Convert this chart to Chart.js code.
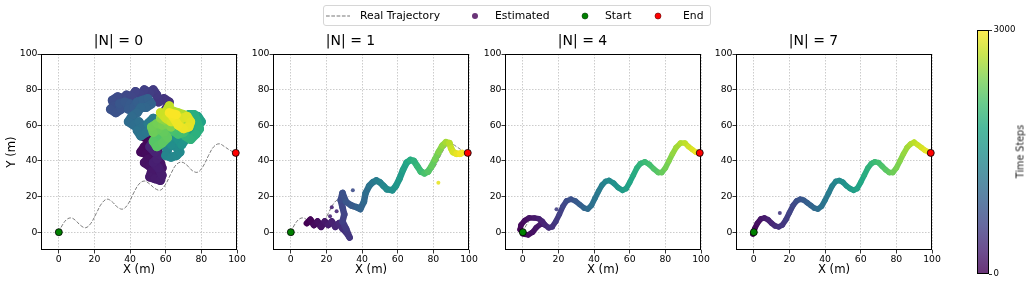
<!DOCTYPE html>
<html>
<head>
<meta charset="UTF-8">
<title>Trajectory estimates</title>
<style>
  body { margin: 0; background: #fff; }
  #wrap { position: relative; width: 1034px; height: 284px; overflow: hidden; font-family: 'DejaVu Sans', sans-serif; }
  #wrap canvas { position: absolute; top: 0; }
  .legend { position: absolute; left: 323px; top: 5px; width: 386px; height: 19px; border: 1px solid #d6d6d6; border-radius: 3px; font-size: 10.8px; color: #000; }
  .legend span { position: absolute; top: 3px; white-space: nowrap; }
  .legend svg { position: absolute; top: 0; }
  .cbar-label { position: absolute; left: 992px; top: 146px; width: 56px; text-align: center; font-size: 9.6px; font-weight: normal; color: #222; transform: rotate(-90deg); transform-origin: 50% 50%; white-space: nowrap; }
</style>
<script src="https://cdn.jsdelivr.net/npm/chart.js@4.4.0/dist/chart.umd.min.js"></script>
</head>
<body>
<div id="wrap">
  <canvas id="p0" width="249" height="284" style="left:0px"></canvas>
  <canvas id="p1" width="249" height="284" style="left:232px"></canvas>
  <canvas id="p2" width="249" height="284" style="left:464px"></canvas>
  <canvas id="p3" width="249" height="284" style="left:695px"></canvas>
  <canvas id="cbar" width="60" height="264" style="left:970px; top:20px"></canvas>
  <div class="cbar-label">Time Steps</div>
  <div class="legend">
    <svg width="30" height="19" style="left:1px"><line x1="1" y1="10" x2="25" y2="10" stroke="#777" stroke-width="1.1" stroke-dasharray="3.7 1.6"/></svg>
    <span style="left:36px">Real Trajectory</span>
    <svg width="10" height="19" style="left:146px"><circle cx="5" cy="10" r="3" fill="#6a3478"/></svg>
    <span style="left:171px">Estimated</span>
    <svg width="10" height="19" style="left:256px"><circle cx="5" cy="10" r="3" fill="green" stroke="#0a3a0a" stroke-width="0.6"/></svg>
    <span style="left:281px">Start</span>
    <svg width="10" height="19" style="left:329px"><circle cx="5" cy="10" r="3" fill="red" stroke="#5a0000" stroke-width="0.6"/></svg>
    <span style="left:359px">End</span>
  </div>
</div>

<script>
// ---- data ----
var panelTitles = ['|N| = 0', '|N| = 1', '|N| = 4', '|N| = 7'];
var xTicks = [0, 20, 40, 60, 80, 100];
var yTicks = [0, 20, 40, 60, 80, 100];
var cbarTicks = [0, 3000];
var tMax = 3000;

// real trajectory (same in every panel)
var trajX = [0, 2, 4.5, 7, 9.5, 12, 15, 18, 21, 24, 27, 30, 33, 36, 39, 42, 45, 48, 51, 54, 57, 60, 63, 66, 69, 72, 75, 78, 81, 84, 87, 90, 93, 96, 99];
var trajY = [0, 4, 7.2, 8, 6.5, 4, 2.5, 5, 10.5, 16, 18.5, 17, 14, 13, 16, 22, 27, 28.7, 27, 24.5, 23.6, 27, 33, 38, 39.3, 37.5, 34.5, 33.7, 37, 43, 48, 49.6, 48, 46, 44.5];
var startPt = [0, 0];
var endPt = [99.3, 44.5];

// estimated positions [x, y, time step]
var est0 = [
  // dark purple, lower blob
  [50,52,0],[47,54,10],[49,57,20],[52,55,30],[54,52,40],[51,50,50],[48,48,60],[46,45,70],[49,44,80],[52,46,90],
  [55,47,100],[56,44,110],[53,42,120],[50,41,130],[48,39,140],[51,37,150],[54,38,160],[57,39,170],[58,36,180],[55,34,190],
  [52,34,200],[51,31,210],[54,30,220],[57,29,230],[58,32,240],[56,36,250],[53,39,260],[55,41,270],[57,43,280],[54,45,290],
  [51,48,300],[53,51,310],[56,54,320],[54,57,330],[51,59,340],[49,56,350],[52,60,360],[55,62,380],[58,65,400],[60,69,420],
  [62,73,440],[59,75,460],[56,73,480],
  // blue, upper left
  [55,77,500],[53,80,520],[51,78,540],[48,80,560],[46,77,580],[43,79,600],[41,76,620],[38,77,640],[36,75,660],[33,76,680],
  [30,74,700],[31,71,720],[29,69,740],[32,67,760],[35,69,780],[34,72,800],[37,73,820],[40,72,840],[39,69,860],[42,70,880],
  [44,73,900],[47,74,920],[50,75,940],[52,72,960],[49,70,980],[46,70,1000],
  // teal
  [44,67,1020],[41,65,1040],[39,62,1060],[42,60,1080],[45,62,1100],[47,59,1120],[44,57,1140],[46,54,1160],[49,56,1180],[52,58,1200],
  [50,61,1220],[53,64,1240],
  [56,60,1260],[58,56,1280],[56,52,1300],[59,49,1320],[61,46,1340],[60,43,1360],[63,42,1380],[66,43,1400],[68,45,1420],[66,48,1440],
  [63,49,1460],[61,52,1480],[64,54,1500],[67,52,1520],[69,49,1540],[71,52,1560],[68,55,1580],[65,57,1600],
  // green, right side
  [68,59,1620],[71,57,1640],[74,55,1660],[76,58,1680],[78,60,1700],[80,62,1720],[78,65,1740],[76,63,1760],[74,60,1780],[72,62,1800],
  [70,64,1820],[73,66,1840],[76,66,1860],[79,58,1880],[77,55,1900],[74,52,1920],[71,54,1940],[69,57,1960],[66,60,1980],[64,62,2000],
  [67,64,2020],[70,62,2040],[72,59,2060],[70,56,2080],[67,55,2100],
  // light green
  [64,57,2120],[61,58,2140],[58,56,2160],[55,54,2180],[53,51,2200],[55,48,2220],[58,50,2240],[61,53,2260],[59,56,2280],[56,58,2300],
  [53,56,2320],[52,59,2340],[55,61,2360],[58,60,2380],[61,61,2400],[63,59,2420],[65,61,2440],[62,63,2460],[59,63,2480],[57,64,2500],
  // yellow, top
  [59,66,2520],[62,66,2540],[65,64,2560],[68,63,2580],[70,61,2600],[72,63,2620],[70,66,2640],[67,67,2660],[64,68,2680],[61,69,2700],
  [62,71,2720],[60,67,2740],[57,67,2760],[60,64,2780],[63,62,2800],[66,62,2820],[69,64,2840],[72,65,2860],[74,62,2880],[73,59,2900],
  [70,58,2920],[67,60,2940],[64,65,2960],[62,67,2980],[66,66,3000]
];
var est1 = [
  [9,5,0],[11,7,40],[13,4,80],[15,6,120],[17,3,160],[19,6,200],[21,4,240],[23,6,280],[25,3,320],[27,5,360],
  [29,2,400],[31,0,440],[33,-3,480],[31,2,520],[29,6,560],[30,10,600],[29,14,640],[28,18,690],[29,22,740],[31,17,800],
  [34,15,860],[37,14,920],[39,13,960],[41,17,1020],[42,22,1080],[44,26,1140],[46,28,1200],[48,29,1260],[50,28,1320],[52,26,1380],
  [54,24,1440],[57,23.5,1500],[59,26,1560],[61,30,1620],[63,35,1700],[65,39,1780],[67,40.5,1850],[69,40,1920],[71,37,1990],[73,34,2060],
  [75,33,2130],[77,34,2200],[79,37,2280],[81,41,2360],[83,45,2440],[85,48.5,2520],[87,50.5,2600],[89,50,2680],[90,47,2760],[91,45,2820],
  [93,44,2900],[95,44,2960],[96,44.5,3000]
];
var out1 = [[23,14,300],[25.7,11.8,320],[22,9,300],[34.8,23.6,700],[82.8,27.7,2900]];
var est4 = [
  [0,0,0],[-1.5,1.5,30],[-1,4,70],[1,6.5,110],[3.5,8,160],[6.5,8,210],[9,7.5,260],[11,6,300],[12.5,4,340],[14.5,2.5,400],
  [16.5,3,450],[18.5,6,510],[20.5,10,570],[22.5,14.5,630],[24.5,17.5,690],[27,18.5,760],[29.5,17.5,830],[32,15.5,900],[34.5,13.5,970],[36.5,13,1040],
  [38.5,15,1110],[40.5,19,1180],[42.5,23,1250],[44.5,26.5,1310],[46.5,28.5,1370],[48.5,29,1430],[51,27.5,1500],[53.5,25,1570],[56,23.5,1640],[58,24.5,1700],
  [60,28,1770],[62,32,1840],[64,36,1900],[66,38.5,1960],[68.5,39.5,2030],[71,38,2100],[73.5,35.5,2170],[76,33.5,2240],[78,33.5,2300],[80,36,2370],
  [82,40,2440],[84,44,2510],[86,47.5,2580],[88.5,50,2650],[91,50,2720],[93,48,2790],[95,46.5,2860],[97,45,2930],[99,44.5,3000]
];
var est4b = [[0,-1,60],[3,-1.5,100],[5.5,0,140],[7.5,2.5,180],[10,4.5,220],[12,4.5,320]];
var out4 = [[18.9,12.9,550]];
var est7 = [
  [0,0,0],[-0.5,-1,20],[0.5,2,60],[2,5,120],[4,7.5,180],[6,8,230],[8,7,280],[10,5,330],[12,3.5,380],[14,3,430],
  [16,4,480],[18,7,540],[20,11,600],[22,15,660],[24,17.5,720],[26,18.5,780],[28,18,840],[30,16.5,900],[32,15,960],[34,13.5,1020],
  [36,13,1080],[38,14.5,1140],[40,18,1200],[42,22,1260],[44,26,1320],[46,28.5,1380],[48,29,1440],[50,28,1500],[52,26,1560],[54,24.5,1620],
  [56,23.5,1680],[58,24.5,1740],[60,28,1800],[62,32,1860],[64,36,1920],[66,38.5,1980],[68,39.5,2040],[70,39,2100],[72,37,2160],[74,35,2220],
  [76,33.5,2280],[78,33.5,2340],[80,36,2400],[82,40,2460],[84,44,2520],[86,47.5,2580],[88,49.5,2640],[90,50.5,2700],[92,49,2760],[94,47.5,2820],
  [96,46,2880],[98,45,2950],[99,44.5,3000]
];
var out7 = [[14.6,10.8,480]];

// ---- colour map ----
var viridisStops = ['#440154','#482475','#414487','#355f8d','#2a788e','#21918c','#22a884','#44bf70','#7ad151','#bddf26','#fde725'];
function hexRgb(h) { return [parseInt(h.substr(1,2),16), parseInt(h.substr(3,2),16), parseInt(h.substr(5,2),16)]; }
function viridis(f, a) {
  f = Math.max(0, Math.min(1, f));
  var p = f * (viridisStops.length - 1), i = Math.min(Math.floor(p), viridisStops.length - 2), r = p - i;
  var c0 = hexRgb(viridisStops[i]), c1 = hexRgb(viridisStops[i+1]);
  var c = c0.map(function(v, k) { return Math.round(v + (c1[k] - v) * r); });
  return 'rgba(' + c[0] + ',' + c[1] + ',' + c[2] + ',' + (a == null ? 1 : a) + ')';
}

Chart.defaults.font.family = "'DejaVu Sans', sans-serif";
Chart.defaults.color = '#000';

// box around the plot area, like matplotlib spines
var framePlugin = {
  id: 'frame',
  beforeDatasetsDraw: function(chart) {
    var a = chart.chartArea, ctx = chart.ctx;
    ctx.save();
    ctx.strokeStyle = '#000';
    ctx.lineWidth = 1;
    ctx.strokeRect(Math.round(a.left) + 0.5, Math.round(a.top) + 0.5, Math.round(a.right - a.left) - 1, Math.round(a.bottom - a.top) - 1);
    ctx.restore();
  }
};

function toPts(arr) { return arr.map(function(p) { return {x: p[0], y: p[1], t: p[2]}; }); }

// estimated track: a thick line coloured segment by segment with the time step
function estSet(arr, width) {
  var pts = toPts(arr);
  return {
    data: pts, showLine: true, borderWidth: width, tension: 0,
    borderCapStyle: 'round', borderJoinStyle: 'round',
    segment: { borderColor: function(c) { return viridis(pts[c.p0DataIndex].t / tMax, 1); } },
    pointRadius: 0,
    order: 3
  };
}

function scatterSet(arr) {
  return {
    data: toPts(arr), showLine: false, pointRadius: 2, pointBorderWidth: 0,
    pointBackgroundColor: function(c) { return viridis(c.raw.t / tMax, 0.9); },
    order: 3
  };
}

function drawPanel(id, idx, bands, width, outliers) {
  var traj = trajX.map(function(x, i) { return {x: x, y: trajY[i]}; });
  var sets = [{
    data: traj, showLine: true, pointRadius: 0, borderColor: 'rgba(110,110,110,0.9)',
    borderWidth: 1, borderDash: [3.7, 1.6], tension: 0.4, order: 5
  }];
  bands.forEach(function(b) { sets.push(estSet(b, width)); });
  if (outliers) sets.push(scatterSet(outliers));
  sets.push({ data: [{x: startPt[0], y: startPt[1]}], pointRadius: 3.5, pointBackgroundColor: 'green', pointBorderColor: '#000', pointBorderWidth: 0.8, clip: false, order: 0 });
  sets.push({ data: [{x: endPt[0], y: endPt[1]}], pointRadius: 3.5, pointBackgroundColor: 'red', pointBorderColor: '#000', pointBorderWidth: 0.8, clip: false, order: 0 });

  var gridOpts = { color: 'rgba(170,170,170,0.75)', lineWidth: 0.8, tickLength: 3.5, tickColor: '#000', tickWidth: 0.8 };
  new Chart(document.getElementById(id), {
    type: 'scatter',
    data: { datasets: sets },
    options: {
      responsive: false, animation: false, events: [],
      layout: { padding: { left: 0, right: 12, top: 0, bottom: 0 } },
      plugins: {
        legend: { display: false }, tooltip: { enabled: false },
        title: { display: true, text: panelTitles[idx], font: { size: 14, weight: 'normal' }, color: '#000', padding: { top: 32.6, bottom: 4.6 } }
      },
      scales: {
        x: {
          type: 'linear', min: -10, max: 100,
          afterBuildTicks: function(s) { s.ticks = xTicks.map(function(v) { return {value: v}; }); },
          afterFit: function(s) { s.height = 34; },
          grid: gridOpts, border: { display: false, dash: [1.5, 1.5] },
          ticks: { font: { size: 9.3 }, padding: 1, maxRotation: 0, autoSkip: false },
          title: { display: true, text: 'X (m)', font: { size: 11.7 }, padding: { top: 0, bottom: 7.5 } }
        },
        y: {
          type: 'linear', min: -10, max: 100,
          afterBuildTicks: function(s) { s.ticks = yTicks.map(function(v) { return {value: v}; }); },
          afterFit: function(s) { s.width = 41; },
          grid: gridOpts, border: { display: false, dash: [1.5, 1.5] },
          ticks: { font: { size: 9.3 }, padding: 0, autoSkip: false },
          title: { display: idx === 0, text: 'Y (m)', font: { size: 11.7 }, padding: { top: 5, bottom: 0 } }
        }
      }
    },
    plugins: [framePlugin]
  });
}

drawPanel('p0', 0, [est0], 9, null);
drawPanel('p1', 1, [est1], 6.5, out1);
drawPanel('p2', 2, [est4, est4b], 5.5, out4);
drawPanel('p3', 3, [est7], 5.5, out7);

// colour bar
var cbarPlugin = {
  id: 'cbarFill',
  beforeDatasetsDraw: function(chart) {
    var a = chart.chartArea, ctx = chart.ctx;
    var g = ctx.createLinearGradient(0, a.bottom, 0, a.top);
    viridisStops.forEach(function(c, i) { g.addColorStop(i / (viridisStops.length - 1), viridis(i / (viridisStops.length - 1), 0.8)); });
    ctx.save();
    ctx.fillStyle = g;
    ctx.fillRect(a.left, a.top, a.right - a.left, a.bottom - a.top);
    ctx.strokeStyle = '#000';
    ctx.lineWidth = 1;
    ctx.strokeRect(Math.round(a.left) + 0.5, Math.round(a.top) + 0.5, Math.round(a.right - a.left) - 1, Math.round(a.bottom - a.top) - 1);
    ctx.restore();
  }
};
new Chart(document.getElementById('cbar'), {
  type: 'scatter',
  data: { datasets: [] },
  options: {
    responsive: false, animation: false, events: [],
    layout: { padding: { left: 7, right: 0, top: 10, bottom: 10 } },
    plugins: { legend: { display: false }, tooltip: { enabled: false } },
    scales: {
      x: { display: false },
      y: {
        position: 'right', min: 0, max: tMax,
        afterBuildTicks: function(s) { s.ticks = cbarTicks.map(function(v) { return {value: v}; }); },
        afterFit: function(s) { s.width = 41; },
        grid: { drawOnChartArea: false, tickLength: 3, tickColor: '#000', tickWidth: 0.8 },
        border: { display: false },
        ticks: { font: { size: 8.6 }, padding: 1.5, autoSkip: false, callback: function(v) { return String(v); } }
      }
    }
  },
  plugins: [cbarPlugin]
});
</script>
</body>
</html>
